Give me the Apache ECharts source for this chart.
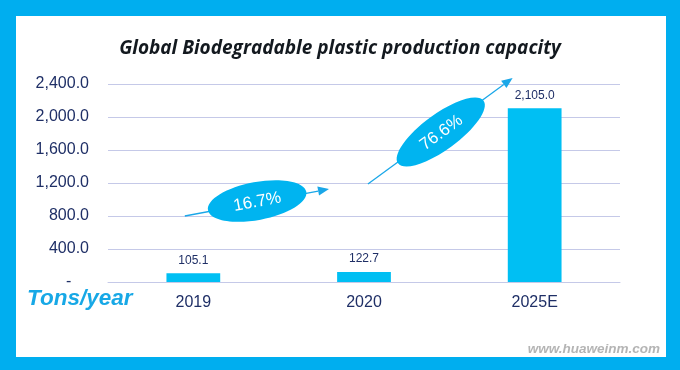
<!DOCTYPE html>
<html>
<head>
<meta charset="utf-8">
<script src="https://cdn.jsdelivr.net/npm/echarts@6/dist/echarts.min.js"></script>
<style>
  html, body { margin: 0; padding: 0; background: #00AEEF; }
  #panel { position: absolute; left: 16px; top: 16px; width: 650px; height: 341px; background: #ffffff; }
  #chart { position: absolute; left: 0; top: 0; width: 680px; height: 370px; }
</style>
</head>
<body>
<div id="panel"></div>
<div id="chart"></div>
<script>
// ---- data ----
const categories = ['2019', '2020', '2025E'];
const capacity = [105.1, 122.7, 2105.0];
const yTicks = { min: 0, max: 2400, interval: 400 };
const growthLabels = ['16.7%', '76.6%'];
// annotation anchors as [category position, value]
const arrowStarts = [[-0.05, 800], [1.023, 1188]];
const arrowEnds = [[0.795, 1127], [1.871, 2473]];
const ellipseCenters = [[0.374, 982], [1.45, 1818]];

const navy = '#1F2F66';
const chart = echarts.init(document.getElementById('chart'));

function fmt(v) {
  if (v === 0) return '-    ';
  return v.toLocaleString('en-US', { minimumFractionDigits: 1, maximumFractionDigits: 1 });
}

chart.setOption({
  animation: false,
  title: {
    text: 'Global Biodegradable plastic production capacity',
    left: 'center',
    top: 34,
    textStyle: { fontFamily: 'Open Sans', fontStyle: 'italic', fontWeight: 'bold', fontSize: 19, color: '#13191f' }
  },
  grid: { left: 108, right: 60, top: 84, bottom: 88 },
  xAxis: {
    type: 'category',
    data: categories,
    axisLine: { lineStyle: { color: '#C5C9E8', width: 1 } },
    axisTick: { show: false },
    axisLabel: { color: navy, fontSize: 16, fontFamily: 'Liberation Sans', margin: 13 }
  },
  yAxis: {
    type: 'value',
    min: yTicks.min, max: yTicks.max, interval: yTicks.interval,
    axisLine: { show: false },
    axisTick: { show: false },
    splitLine: { lineStyle: { color: '#C5C9E8', width: 1 } },
    axisLabel: { color: navy, fontSize: 16, fontFamily: 'Liberation Sans', margin: 19, formatter: fmt }
  },
  series: [{
    type: 'bar',
    data: capacity,
    barWidth: '31.5%',
    itemStyle: { color: '#00BFF3' },
    label: {
      show: true, position: 'top', distance: 7,
      color: navy, fontSize: 12, fontFamily: 'Liberation Sans',
      formatter: p => fmt(p.value)
    }
  }]
});

function toPx(pt) {
  const a = chart.convertToPixel({ seriesIndex: 0 }, [0, pt[1]]);
  const b = chart.convertToPixel({ seriesIndex: 0 }, [1, pt[1]]);
  return [a[0] + pt[0] * (b[0] - a[0]), a[1]];
}

const graphics = [];
const arrowColor = '#1AA7E8';
for (let i = 0; i < growthLabels.length; i++) {
  const s = toPx(arrowStarts[i]);
  const e = toPx(arrowEnds[i]);
  const c = toPx(ellipseCenters[i]);
  const ang = Math.atan2(s[1] - e[1], e[0] - s[0]);
  const hl = 11, hw = 4.5;
  const bx = e[0] - hl * Math.cos(ang), by = e[1] + hl * Math.sin(ang);
  const px = Math.sin(ang) * hw, py = Math.cos(ang) * hw;
  graphics.push({
    type: 'line', z: 10,
    shape: { x1: s[0], y1: s[1], x2: bx, y2: by },
    style: { stroke: arrowColor, lineWidth: 1.3 }
  });
  graphics.push({
    type: 'polygon', z: 10,
    shape: { points: [[e[0], e[1]], [bx - px, by - py], [bx + px, by + py]] },
    style: { fill: arrowColor }
  });
  const rx = i === 0 ? 50 : 53;
  const ry = i === 0 ? 19 : 18;
  graphics.push({
    type: 'group', x: c[0], y: c[1], rotation: ang, z: 11,
    children: [
      { type: 'ellipse', shape: { cx: 0, cy: 0, rx: rx, ry: ry }, style: { fill: '#00B4F0' }, z: 11 },
      { type: 'text', x: 0, y: 1, z: 12,
        style: { text: growthLabels[i], fill: '#ffffff', font: '17px "Liberation Sans"',
                 textAlign: 'center', textVerticalAlign: 'middle', align: 'center', verticalAlign: 'middle' } }
    ]
  });
}
graphics.push({
  type: 'text', left: 27, top: 287, z: 10,
  style: { text: 'Tons/year', fill: '#17A8E6', font: 'italic bold 22.5px "Liberation Sans"' }
});
graphics.push({
  type: 'text', right: 20, top: 342, z: 10,
  style: { text: 'www.huaweinm.com', fill: '#B4B4B4', font: 'italic bold 13.5px "Liberation Sans"' }
});
chart.setOption({ graphic: graphics });
</script>
</body>
</html>
